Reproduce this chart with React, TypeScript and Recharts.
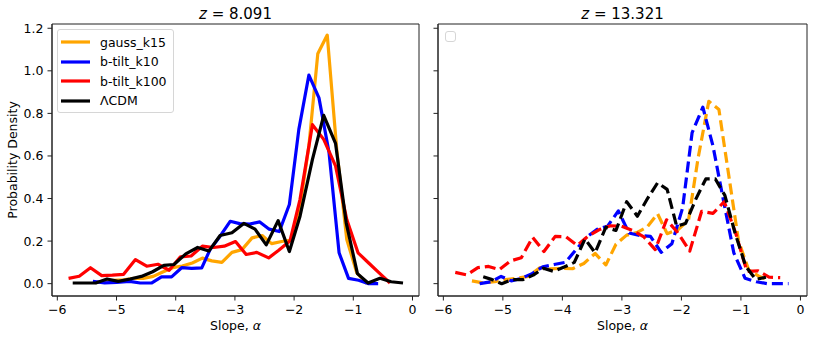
import React from "react";
import { LineChart, Line, XAxis, YAxis, Legend, ReferenceArea } from "recharts";

// bins (slope) and densities
const xTicks = [-6, -5, -4, -3, -2, -1, 0];
const yTicks = [0, 0.2, 0.4, 0.6, 0.8, 1.0, 1.2];
const xDomain = [-6.09, 0.11];
const yDomain = [-0.058, 1.22];

const seriesNames = ["gauss_k15", "b-tilt_k10", "b-tilt_k100", "\u039BCDM"];
const seriesColors = ["#FFA500", "#0000FF", "#FF0000", "#000000"];

// z = 8.091
const gaussLeftX = [-5.37, -5.21, -5.04, -4.88, -4.71, -4.55, -4.38, -4.22, -4.05, -3.89, -3.72, -3.55, -3.39, -3.22, -3.05, -2.88, -2.71, -2.54, -2.38, -2.21, -2.05, -1.9, -1.75, -1.6, -1.44, -1.28, -1.11, -0.94, -0.77];
const gaussLeftY = [0.005, 0.011, 0.015, 0.018, 0.025, 0.025, 0.034, 0.055, 0.075, 0.083, 0.097, 0.12, 0.107, 0.1, 0.147, 0.16, 0.215, 0.226, 0.188, 0.198, 0.205, 0.364, 0.647, 1.08, 1.168, 0.631, 0.207, 0.05, 0.0];

const tilt10LeftX = [-5.4, -5.2, -5.0, -4.78, -4.6, -4.41, -4.24, -4.07, -3.9, -3.73, -3.56, -3.42, -3.25, -3.08, -2.92, -2.75, -2.58, -2.42, -2.25, -2.08, -1.92, -1.75, -1.58, -1.41, -1.24, -1.08, -0.91, -0.74, -0.58];
const tilt10LeftY = [0.011, 0.004, 0.006, 0.011, 0.003, 0.003, 0.032, 0.032, 0.075, 0.072, 0.074, 0.16, 0.223, 0.293, 0.282, 0.28, 0.29, 0.256, 0.245, 0.372, 0.725, 0.98, 0.873, 0.616, 0.145, 0.025, 0.016, 0.0, 0.0];

const tilt100LeftX = [-5.81, -5.63, -5.44, -5.25, -5.07, -4.88, -4.68, -4.49, -4.3, -4.11, -3.92, -3.74, -3.55, -3.36, -3.18, -2.99, -2.81, -2.63, -2.43, -2.26, -2.07, -1.9, -1.69, -1.5, -1.3, -1.11, -0.92, -0.74, -0.55, -0.38];
const tilt100LeftY = [0.025, 0.035, 0.075, 0.038, 0.04, 0.044, 0.113, 0.082, 0.091, 0.063, 0.126, 0.13, 0.176, 0.17, 0.176, 0.198, 0.137, 0.147, 0.121, 0.157, 0.2, 0.396, 0.747, 0.678, 0.553, 0.301, 0.145, 0.097, 0.047, 0.003];

const lcdmLeftX = [-5.74, -5.54, -5.35, -5.16, -4.97, -4.77, -4.58, -4.39, -4.2, -4.03, -3.83, -3.63, -3.44, -3.25, -3.05, -2.85, -2.66, -2.47, -2.27, -2.08, -1.9, -1.69, -1.5, -1.3, -1.12, -0.93, -0.75, -0.55, -0.36, -0.16];
const lcdmLeftY = [0.003, 0.003, 0.003, 0.022, 0.011, 0.022, 0.034, 0.056, 0.086, 0.09, 0.14, 0.17, 0.153, 0.226, 0.239, 0.283, 0.256, 0.182, 0.296, 0.151, 0.317, 0.584, 0.791, 0.659, 0.286, 0.047, 0.003, 0.025, 0.009, 0.003];

// z = 13.321
const gaussRightX = [-5.52, -5.33, -5.14, -4.96, -4.77, -4.57, -4.38, -4.21, -4.01, -3.83, -3.64, -3.45, -3.27, -3.1, -2.92, -2.75, -2.58, -2.4, -2.24, -2.05, -1.88, -1.72, -1.54, -1.37, -1.2, -1.04, -0.87, -0.7, -0.53];
const gaussRightY = [0.013, 0.003, 0.009, 0.019, 0.025, 0.034, 0.075, 0.069, 0.072, 0.07, 0.095, 0.142, 0.088, 0.185, 0.228, 0.24, 0.265, 0.328, 0.235, 0.255, 0.3, 0.59, 0.857, 0.818, 0.5, 0.2, 0.065, 0.035, 0.016];

const tilt10RightX = [-5.39, -5.2, -5.03, -4.86, -4.69, -4.51, -4.33, -4.14, -3.95, -3.77, -3.59, -3.41, -3.24, -3.06, -2.88, -2.7, -2.52, -2.34, -2.16, -1.98, -1.82, -1.64, -1.47, -1.3, -1.12, -0.93, -0.74, -0.56, -0.38, -0.2];
const tilt10RightY = [0.0, 0.009, 0.034, 0.013, 0.025, 0.047, 0.079, 0.09, 0.1, 0.16, 0.22, 0.256, 0.27, 0.342, 0.238, 0.226, 0.222, 0.147, 0.188, 0.356, 0.71, 0.829, 0.647, 0.4, 0.145, 0.025, 0.009, 0.0, 0.0, 0.0];

const tilt100RightX = [-5.8, -5.61, -5.42, -5.24, -5.06, -4.87, -4.69, -4.5, -4.31, -4.12, -3.94, -3.75, -3.57, -3.38, -3.19, -3.01, -2.82, -2.63, -2.44, -2.25, -2.06, -1.86, -1.66, -1.47, -1.28, -1.09, -0.9, -0.71, -0.52, -0.34];
const tilt100RightY = [0.053, 0.041, 0.075, 0.081, 0.066, 0.107, 0.122, 0.218, 0.151, 0.222, 0.22, 0.18, 0.223, 0.254, 0.272, 0.27, 0.25, 0.22, 0.16, 0.3, 0.239, 0.153, 0.34, 0.33, 0.385, 0.239, 0.058, 0.06, 0.03, 0.028];

const lcdmRightX = [-5.33, -5.18, -5.02, -4.84, -4.66, -4.49, -4.32, -4.15, -3.97, -3.8, -3.62, -3.45, -3.27, -3.1, -2.92, -2.74, -2.57, -2.4, -2.24, -2.08, -1.93, -1.76, -1.59, -1.43, -1.27, -1.1, -0.92, -0.75, -0.58];
const lcdmRightY = [0.032, 0.019, 0.0, 0.019, 0.019, 0.04, 0.072, 0.058, 0.078, 0.1, 0.21, 0.145, 0.265, 0.25, 0.385, 0.317, 0.4, 0.474, 0.443, 0.27, 0.283, 0.396, 0.492, 0.492, 0.415, 0.239, 0.082, 0.02, 0.03];

const zip = (xs: number[], ys: number[]) => xs.map((x, i) => ({ x, y: ys[i] }));

const leftSeries = [
  zip(gaussLeftX, gaussLeftY),
  zip(tilt10LeftX, tilt10LeftY),
  zip(tilt100LeftX, tilt100LeftY),
  zip(lcdmLeftX, lcdmLeftY),
];
const rightSeries = [
  zip(gaussRightX, gaussRightY),
  zip(tilt10RightX, tilt10RightY),
  zip(tilt100RightX, tilt100RightY),
  zip(lcdmRightX, lcdmRightY),
];

const FONT = "DejaVu Sans, sans-serif";
const FRAME = "#222";
const minus = (v: number) => String(v).replace("-", "\u2212");

const PanelTitle = ({ viewBox, z }: any) => (
  <text x={viewBox.x + viewBox.width / 2} y={viewBox.y - 5.5} textAnchor="middle" fontSize={15} fill="#000" fontFamily={FONT}>
    <tspan fontStyle="italic">z</tspan>
    <tspan> = {z}</tspan>
  </text>
);

const SlopeLabel = ({ viewBox }: any) => (
  <text x={viewBox.x + viewBox.width / 2} y={330} textAnchor="middle" fontSize={12.5} fill="#000" fontFamily={FONT}>
    Slope, <tspan fontStyle="italic">{"\u03B1"}</tspan>
  </text>
);

const DensityLabel = ({ viewBox }: any) => {
  const cy = viewBox.y + viewBox.height / 2;
  return (
    <text x={12} y={cy} transform={`rotate(-90 12 ${cy})`} textAnchor="middle" dominantBaseline="central" fontSize={12.5} fill="#000" fontFamily={FONT}>
      Probability Density
    </text>
  );
};

const SeriesLegend = ({ payload }: any) => {
  // keep the plotting order, not the alphabetical one
  const items = [...(payload || [])].sort(
    (a: any, b: any) => seriesNames.indexOf(a.value) - seriesNames.indexOf(b.value)
  );
  return (
    <div
      style={{
        width: 117,
        height: 84,
        boxSizing: "border-box",
        border: "1px solid #d6d6d6",
        borderRadius: 3,
        background: "rgba(255,255,255,0.8)",
        paddingTop: 2.5,
        fontFamily: FONT,
      }}
    >
      {items.map((p: any) => (
        <div key={p.value} style={{ display: "flex", alignItems: "center", height: 19.5 }}>
          <svg width={40} height={10}>
            <line x1={3} x2={32} y1={5} y2={5} stroke={p.color} strokeWidth={3.2} />
          </svg>
          <span style={{ fontSize: 12.5, marginLeft: 2, color: "#000" }}>{p.value}</span>
        </div>
      ))}
    </div>
  );
};

const EmptyLegend = () => (
  <div style={{ width: 11, height: 11, boxSizing: "border-box", border: "1px solid #d6d6d6", borderRadius: 3 }} />
);

function Panel({ series, z, left, width, yAxisWidth, marginRight, dashed, showYLabels }: any) {
  return (
    <div style={{ position: "absolute", left, top: 0 }}>
      <LineChart width={width} height={340} margin={{ top: 24, right: marginRight, bottom: 0, left: 0 }}>
        <XAxis
          dataKey="x"
          type="number"
          domain={xDomain}
          ticks={xTicks}
          allowDataOverflow
          height={44}
          tickSize={4.5}
          tickMargin={4.5}
          tickFormatter={minus}
          tick={{ fill: "#000", fontSize: 12.5 }}
          stroke={FRAME}
          label={<SlopeLabel />}
        />
        <YAxis
          type="number"
          domain={yDomain}
          ticks={yTicks}
          allowDataOverflow
          width={yAxisWidth}
          tickSize={4.5}
          tickMargin={4}
          tickFormatter={(v: number) => (showYLabels ? v.toFixed(1) : "")}
          tick={{ fill: "#000", fontSize: 12.5 }}
          stroke={FRAME}
          label={showYLabels ? <DensityLabel /> : undefined}
        />
        {/* axes frame + panel title */}
        <ReferenceArea
          x1={xDomain[0]}
          x2={xDomain[1]}
          y1={yDomain[0]}
          y2={yDomain[1]}
          fill="none"
          fillOpacity={0}
          stroke={FRAME}
          strokeWidth={1}
          ifOverflow="visible"
          label={<PanelTitle z={z} />}
        />
        {series.map((d: any[], i: number) => (
          <Line
            key={seriesNames[i]}
            data={d}
            dataKey="y"
            name={seriesNames[i]}
            stroke={seriesColors[i]}
            strokeWidth={3.2}
            strokeDasharray={dashed ? "11 5" : undefined}
            strokeLinejoin="round"
            dot={false}
            activeDot={false}
            isAnimationActive={false}
          />
        ))}
        <Legend
          verticalAlign="middle"
          align="center"
          content={dashed ? <EmptyLegend /> : <SeriesLegend />}
          wrapperStyle={dashed ? { left: 25, top: 31, width: "auto" } : { left: 57, top: 29, width: "auto" }}
        />
      </LineChart>
    </div>
  );
}

export default function App() {
  return (
    <div style={{ position: "absolute", left: 0, top: 0, width: 814, height: 340, background: "#fff", fontFamily: FONT }}>
      <Panel series={leftSeries} z="8.091" left={0} width={430} yAxisWidth={52} marginRight={11} dashed={false} showYLabels />
      <Panel series={rightSeries} z="13.321" left={420} width={394} yAxisWidth={18} marginRight={7} dashed showYLabels={false} />
    </div>
  );
}
